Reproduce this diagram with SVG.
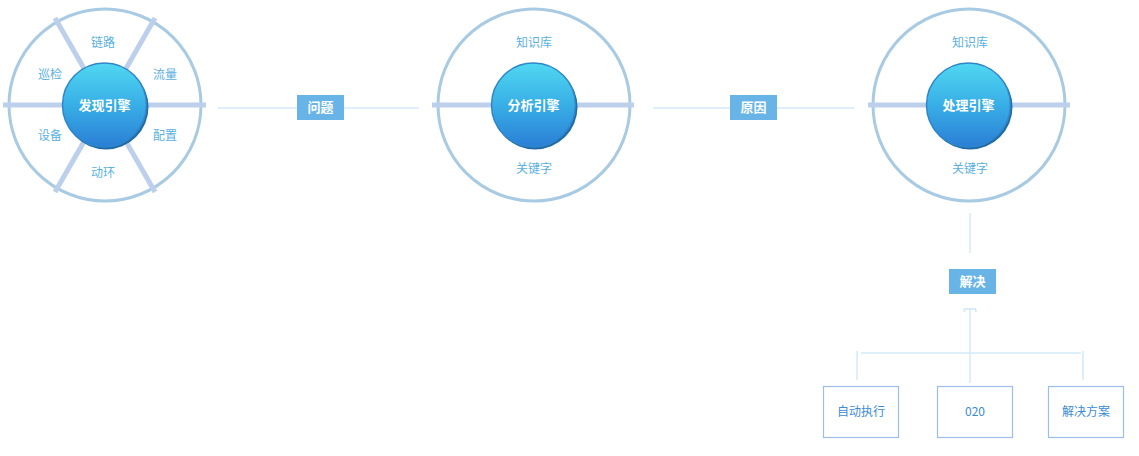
<svg xmlns="http://www.w3.org/2000/svg" width="1139" height="456" viewBox="0 0 1139 456">
<defs>
<linearGradient id="core" x1="0" y1="0" x2="0" y2="1">
<stop offset="0" stop-color="#50d8f2"/>
<stop offset="0.5" stop-color="#38aee6"/>
<stop offset="1" stop-color="#2a7fd6"/>
</linearGradient>
<marker id="arr" viewBox="0 0 6 14" refX="5" refY="7" markerWidth="6" markerHeight="14" markerUnits="userSpaceOnUse" orient="auto">
<path d="M2,1 L5,1.5 L5,12.5 L2,13" fill="none" stroke="#cfe6f8" stroke-width="1.5"/>
</marker>
</defs>
<style>
.ring{fill:none;stroke:#a8cbe3;stroke-width:3}
.spoke{stroke:#bcd0ec;stroke-width:5}
.core{fill:url(#core);stroke:#2f86c8;stroke-width:1.5}
.shadow{fill:#1f6aa8}
.title{font-family:"Noto Sans CJK SC","Liberation Sans",sans-serif;font-size:13px;font-weight:bold;fill:#ffffff;text-anchor:middle}
.lbl{font-family:"Noto Sans CJK SC","Liberation Sans",sans-serif;font-size:12px;fill:#5ab0e2;text-anchor:middle}
.conn{stroke:#d3e9f8;stroke-width:1.5;fill:none}
.tag{fill:#68b4e6}
.tagt{font-family:"Noto Sans CJK SC","Liberation Sans",sans-serif;font-size:13px;font-weight:bold;fill:#ffffff;text-anchor:middle}
.box{fill:#ffffff;stroke:#9dbdea;stroke-width:1.2}
.boxt{font-family:"Noto Sans CJK SC","Liberation Sans",sans-serif;font-size:12px;fill:#3a8ad8;text-anchor:middle}
</style>

<g id="connectors">
<line class="conn" x1="218" y1="108" x2="419" y2="108"/>
<line class="conn" x1="653" y1="108" x2="854" y2="108"/>
<line class="conn" x1="970" y1="213" x2="970" y2="253"/>
<line class="conn" x1="970" y1="383" x2="970" y2="309" marker-end="url(#arr)"/>
<line class="conn" x1="861" y1="353" x2="1081" y2="353"/>
<line class="conn" x1="857" y1="351" x2="857" y2="380"/>
<line class="conn" x1="1083" y1="351" x2="1083" y2="380"/>
<g id="tag-wenti"><rect class="tag" x="297" y="95" width="47" height="25"/><text class="tagt" x="320.5" y="112">问题</text></g>
<g id="tag-yuanyin"><rect class="tag" x="730" y="95" width="47" height="25"/><text class="tagt" x="753.5" y="112">原因</text></g>
<g id="tag-jiejue"><rect class="tag" x="949" y="269" width="47" height="25"/><text class="tagt" x="972.5" y="286">解决</text></g>
</g>

<g id="discover">
<circle class="ring" cx="105" cy="105" r="96"/>
<line class="spoke" x1="3" y1="105" x2="206" y2="105"/>
<line class="spoke" x1="55" y1="18" x2="155" y2="192"/>
<line class="spoke" x1="155" y1="18" x2="55" y2="192"/>
<circle class="shadow" cx="106" cy="107" r="42.5"/>
<circle class="core" cx="104.5" cy="105" r="42"/>
<text class="title" x="104.5" y="110">发现引擎</text>
<text class="lbl" x="103" y="47">链路</text>
<text class="lbl" x="165" y="79">流量</text>
<text class="lbl" x="165" y="140">配置</text>
<text class="lbl" x="103" y="177">动环</text>
<text class="lbl" x="50" y="140">设备</text>
<text class="lbl" x="50" y="79">巡检</text>
</g>

<g id="analyze">
<circle class="ring" cx="534" cy="105" r="96"/>
<line class="spoke" x1="432" y1="105" x2="634" y2="105"/>
<circle class="shadow" cx="535" cy="107" r="42.5"/>
<circle class="core" cx="533.5" cy="105" r="42"/>
<text class="title" x="533.5" y="110">分析引擎</text>
<text class="lbl" x="534" y="47">知识库</text>
<text class="lbl" x="534" y="173">关键字</text>
</g>

<g id="process">
<circle class="ring" cx="969" cy="105" r="96"/>
<line class="spoke" x1="868" y1="105" x2="1070" y2="105"/>
<circle class="shadow" cx="970" cy="107" r="42.5"/>
<circle class="core" cx="968.5" cy="105" r="42"/>
<text class="title" x="968.5" y="110">处理引擎</text>
<text class="lbl" x="970" y="47">知识库</text>
<text class="lbl" x="970" y="173">关键字</text>
</g>

<g id="auto"><rect class="box" x="823.5" y="386.5" width="75" height="51"/><text class="boxt" x="861" y="416">自动执行</text></g>
<g id="o2o"><rect class="box" x="937.5" y="386.5" width="75" height="51"/><text class="boxt" x="975" y="416">020</text></g>
<g id="plan"><rect class="box" x="1048.5" y="386.5" width="75" height="51"/><text class="boxt" x="1086" y="416">解决方案</text></g>
</svg>
